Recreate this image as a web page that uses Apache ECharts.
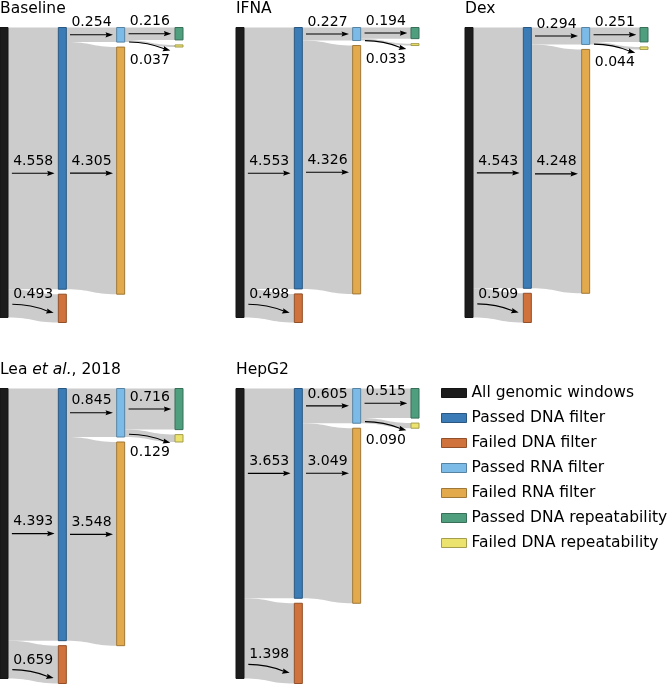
<!DOCTYPE html>
<html>
<head>
<meta charset="utf-8">
<script src="https://cdn.jsdelivr.net/npm/echarts@6/dist/echarts.min.js"></script>
<style>
html,body{margin:0;padding:0;background:#ffffff;}
#c{width:671px;height:684px;}
</style>
</head>
<body>
<div id="c"></div>
<script>
// ---- data ----
const panelTitles = ['Baseline', 'IFNA', 'Dex', 'Lea et al., 2018', 'HepG2'];
const nodeNames = ['All genomic windows', 'Passed DNA filter', 'Failed DNA filter',
  'Passed RNA filter', 'Failed RNA filter', 'Passed DNA repeatability', 'Failed DNA repeatability'];
const passedDNA = [4.558, 4.553, 4.543, 4.393, 3.653];
const failedDNA = [0.493, 0.498, 0.509, 0.659, 1.398];
const passedRNA = [0.254, 0.227, 0.294, 0.845, 0.605];
const failedRNA = [4.305, 4.326, 4.248, 3.548, 3.049];
const passedRep = [0.216, 0.194, 0.251, 0.716, 0.515];
const failedRep = [0.037, 0.033, 0.044, 0.129, 0.090];

// ---- styling ----
const FONT = 'DejaVu Sans';
const colors = ['#1c1c1c', '#3b7cb6', '#d0723c', '#7cbbe8', '#e3aa4d', '#4f9e7e', '#ece26e'];
function darken(hex, f) {
  f = f || 0.7;
  const n = parseInt(hex.slice(1), 16);
  const r = Math.round(((n >> 16) & 255) * f), g = Math.round(((n >> 8) & 255) * f), b = Math.round((n & 255) * f);
  return 'rgb(' + r + ',' + g + ',' + b + ')';
}
const svgStraight = "<svg xmlns='http://www.w3.org/2000/svg' width='43' height='8'>" +
  "<line x1='0' y1='4' x2='37' y2='4' stroke='black' stroke-width='1.1'/>" +
  "<path d='M43 4 L35.5 1.4 L36.6 4 L35.5 6.6 Z' fill='black'/></svg>";
const svgCurve = "<svg xmlns='http://www.w3.org/2000/svg' width='42' height='12'>" +
  "<path d='M0 1.5 C 15 1.5, 25 4, 35.5 8.4' fill='none' stroke='black' stroke-width='1.1'/>" +
  "<path d='M41.5 10 L33.6 10.8 L35.3 8.4 L35 5.6 Z' fill='black'/></svg>";
const urlStraight = 'data:image/svg+xml;charset=utf-8,' + encodeURIComponent(svgStraight);
const urlCurve = 'data:image/svg+xml;charset=utf-8,' + encodeURIComponent(svgCurve);

const panels = [
  {left: 0, top: 27.5}, {left: 236, top: 27.5}, {left: 465, top: 27.5},
  {left: 0, top: 388.5}, {left: 236, top: 388.5}
];
// vertical nudges of the value/arrow annotations (per panel) for the three big links
const shiftPassedDNA = [15, 15, 15, 19, -20];
const shiftFailedRNA = [5, 5, 5, -7, -40];
const shiftFailedDNA = [3, 3, 3, 12, 28];
const PW = 183, PH = 295;
const curvedTargets = [nodeNames[2], nodeNames[6]];
const labelBelowTargets = [nodeNames[6]];

function edgeFormatter(params) {
  const d = params.data;
  const v = Number(params.value).toFixed(3);
  const arrow = curvedTargets.indexOf(d.target) >= 0 ? '{c|}' : '{a|}';
  if (labelBelowTargets.indexOf(d.target) >= 0) {
    return '{s|}\n' + arrow + '\n{v|' + v + '}';
  }
  return '{v|' + v + '}\n' + arrow + '\n{s|}';
}
function shifted(dy) { return {offset: [0, dy]}; }

const series = panels.map(function (p, i) {
  return {
    type: 'sankey',
    name: 'panel' + i,
    left: p.left, top: p.top, width: PW, height: PH,
    nodeWidth: 8, nodeGap: 5, nodeAlign: 'left', layoutIterations: 0,
    draggable: false,
    label: {show: false},
    emphasis: {disabled: true},
    lineStyle: {color: '#cccccc', opacity: 1, curveness: 0.5},
    data: nodeNames.map(function (n, k) {
      return {name: n, itemStyle: {color: colors[k], borderColor: darken(colors[k]), borderWidth: 1}};
    }),
    links: [
      {source: nodeNames[0], target: nodeNames[1], value: passedDNA[i], edgeLabel: shifted(shiftPassedDNA[i])},
      {source: nodeNames[0], target: nodeNames[2], value: failedDNA[i], edgeLabel: shifted(shiftFailedDNA[i])},
      {source: nodeNames[1], target: nodeNames[3], value: passedRNA[i]},
      {source: nodeNames[1], target: nodeNames[4], value: failedRNA[i], edgeLabel: shifted(shiftFailedRNA[i])},
      {source: nodeNames[3], target: nodeNames[5], value: passedRep[i]},
      {source: nodeNames[3], target: nodeNames[6], value: failedRep[i], edgeLabel: shifted(3)}
    ],
    edgeLabel: {
      show: true,
      formatter: edgeFormatter,
      color: '#000',
      textBorderWidth: 0,
      rich: {
        v: {fontFamily: FONT, fontSize: 14, lineHeight: 16, color: '#000'},
        a: {width: 43, height: 8, backgroundColor: {image: urlStraight}},
        c: {width: 42, height: 12, backgroundColor: {image: urlCurve}},
        s: {width: 1, height: 16}
      }
    }
  };
});

nodeNames.forEach(function (n, k) {
  series.push({
    type: 'graph', name: n, data: [], links: [],
    itemStyle: {color: colors[k], borderColor: darken(colors[k]), borderWidth: 1}
  });
});

const titles = panels.map(function (p, i) {
  const t = panelTitles[i];
  let text = t;
  if (t.indexOf('et al.') >= 0) {
    const parts = t.split('et al.');
    text = '{n|' + parts[0] + '}{i|et al.}{n|' + parts[1] + '}';
  }
  return {
    text: text, left: p.left, top: p.top - 27, padding: 0,
    textStyle: {
      fontFamily: FONT, fontSize: 15.5, fontWeight: 'normal', color: '#000',
      rich: {
        n: {fontFamily: FONT, fontSize: 15.5, color: '#000'},
        i: {fontFamily: FONT, fontSize: 15.5, color: '#000', fontStyle: 'italic'}
      }
    }
  };
});

const chart = echarts.init(document.getElementById('c'), null, {renderer: 'canvas'});
chart.setOption({
  backgroundColor: '#ffffff',
  animation: false,
  title: titles,
  legend: {
    data: nodeNames, orient: 'vertical', left: 441, top: 385, padding: 0,
    itemWidth: 25, itemHeight: 9, itemGap: 9, icon: 'rect', selectedMode: false,
    itemStyle: {borderWidth: 1},
    textStyle: {fontFamily: FONT, fontSize: 15.5, color: '#000'}
  },
  series: series
});
</script>
</body>
</html>
